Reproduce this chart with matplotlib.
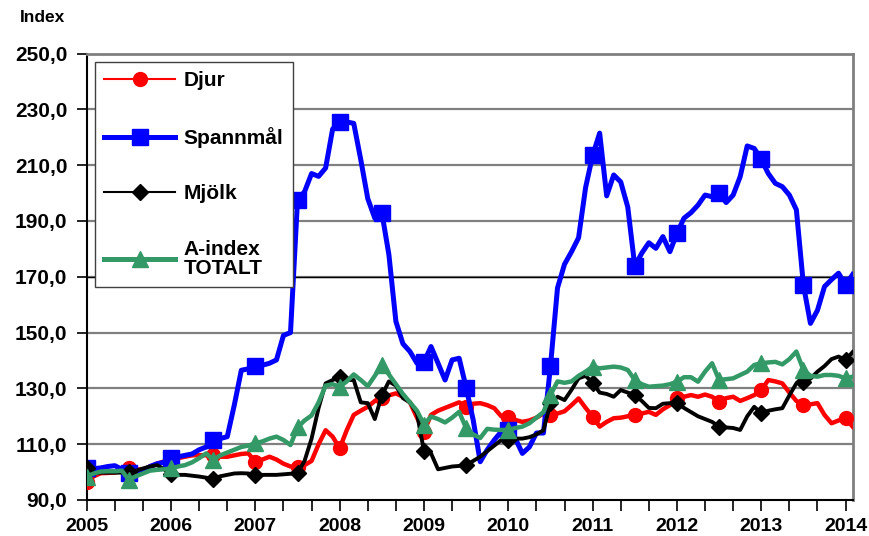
import matplotlib.pyplot as plt
from matplotlib.lines import Line2D

plt.rcParams["font.family"] = ["Liberation Sans", "DejaVu Sans"]
plt.rcParams["font.weight"] = "bold"

# Månadsdata jan 2005 - feb 2014
years = [str(y) for y in range(2005, 2015)]

djur = [
    96.6, 98.5, 99.6, 99.7, 99.8, 100.5, 101.3, 101.0, 100.8, 102.0, 103.0, 103.8,
    104.3, 105.0, 105.5, 106.0, 106.1, 106.0, 106.0, 105.5, 105.5, 106.0, 106.5, 106.7,
    103.7, 104.5, 105.5, 104.5, 103.0, 102.0, 101.9, 102.5, 104.0, 110.0, 115.0, 112.7,
    108.5, 115.0, 120.5, 122.0, 123.4, 125.5, 126.5, 127.5, 128.2, 127.0, 125.0, 119.5,
    114.5, 120.5, 122.0, 123.0, 124.0, 125.0, 123.4, 124.5, 124.7, 124.0, 122.9, 120.0,
    119.9, 118.7, 118.0, 118.5, 119.5, 121.0, 120.5, 121.0, 121.8, 124.0, 126.4, 123.0,
    119.9, 116.3, 118.0, 119.3, 119.5, 120.0, 120.5, 121.0, 121.6, 120.5, 122.5, 124.0,
    126.4, 127.0, 127.6, 127.0, 127.8, 127.0, 125.2, 126.5, 127.0, 125.5, 126.5, 127.6,
    129.4, 133.0, 132.5, 131.8, 128.5, 125.5, 124.0, 124.3, 124.7, 120.5, 117.5, 118.5,
    119.3, 116.3,
]

spannmal = [
    101.5, 101.2, 101.5, 102.0, 102.3, 101.0, 99.5, 99.0, 100.5, 102.0, 103.0, 103.5,
    105.0, 105.5, 106.0, 106.5, 108.0, 109.0, 111.5, 112.0, 112.7, 124.0, 136.5, 137.0,
    138.0, 138.3, 139.0, 140.2, 149.0, 150.0, 197.5, 200.5, 207.0, 206.0, 209.0, 223.0,
    225.5, 225.5, 225.0, 212.0, 198.0, 191.0, 193.0, 178.0, 154.0, 146.0, 143.2, 139.0,
    139.5, 145.0, 139.0, 133.0, 140.2, 140.8, 130.3, 118.7, 103.7, 108.0, 111.5, 114.5,
    115.0, 112.0, 106.7, 109.0, 114.0, 114.0, 138.0, 166.0, 174.5, 179.0, 184.0, 202.0,
    213.5, 221.5, 199.0, 206.5, 204.0, 195.0, 173.8, 178.5, 182.2, 180.2, 184.4, 179.0,
    185.6, 191.0, 193.0, 195.7, 199.3, 198.7, 200.2, 196.6, 199.3, 205.9, 216.9, 216.0,
    212.1, 207.0, 203.5, 202.3, 199.3, 194.0, 167.0, 153.3, 158.0, 166.5, 169.0, 171.3,
    167.0, 170.8,
]

mjolk = [
    101.5, 99.5, 99.8, 99.8, 99.8, 99.8, 100.2, 100.5, 101.3, 102.0, 102.5, 101.0,
    99.3, 99.0, 99.0, 98.7, 98.4, 98.0, 97.5, 98.5, 99.0, 99.5, 99.6, 99.5,
    98.8, 99.0, 99.0, 99.0, 99.2, 99.4, 99.6, 104.0, 112.0, 123.0, 131.8, 133.0,
    134.0, 133.0, 133.0, 125.0, 124.7, 119.0, 127.5, 132.5, 131.0, 126.5, 125.0, 121.0,
    107.5, 106.7, 101.0, 101.5, 102.0, 102.2, 102.5, 104.0, 105.5, 107.5, 109.5, 111.5,
    111.5, 112.0, 112.0, 112.5, 113.5, 115.0, 124.7, 127.0, 125.8, 129.5, 133.6, 134.5,
    132.0, 128.5, 128.0, 127.0, 129.4, 128.5, 127.6, 125.5, 123.0, 122.9, 124.5, 124.7,
    124.7, 123.0, 121.5, 120.0, 119.0, 118.0, 116.3, 116.0, 115.8, 115.1, 120.0, 123.4,
    121.1, 122.0, 122.5, 122.9, 127.5, 131.8, 132.4, 133.5, 136.0, 138.0, 140.5, 141.4,
    140.2, 143.0,
]

a_index = [
    98.4, 99.5, 100.2, 100.3, 100.3, 100.5, 97.2, 98.5, 99.5, 100.5, 100.8, 101.0,
    101.3, 102.0, 102.5, 103.5, 105.0, 106.7, 104.3, 106.0, 107.0, 108.0, 109.0, 109.5,
    110.3, 111.0, 112.0, 112.7, 111.5, 109.7, 116.0, 118.5, 120.3, 125.0, 131.0, 131.5,
    130.6, 132.5, 135.0, 133.0, 130.8, 134.5, 138.4, 135.0, 131.5, 128.0, 125.0, 122.0,
    117.0, 119.9, 119.0, 117.8, 119.5, 121.6, 115.7, 113.5, 112.2, 115.5, 115.2, 115.1,
    115.1, 115.8, 116.3, 117.5, 119.5, 121.5, 127.6, 132.5, 132.0, 132.5, 134.5, 136.0,
    137.8, 137.2, 137.5, 137.8, 137.5, 136.6, 133.0, 131.5, 130.6, 130.8, 131.0, 131.5,
    132.4, 134.0, 134.0, 132.4, 136.0, 139.0, 133.0, 133.3, 133.6, 134.8, 136.0, 138.4,
    139.0, 139.3, 139.5, 138.6, 140.5, 143.2, 136.6, 134.5, 134.2, 134.8, 134.8, 134.5,
    133.6, 134.2,
]

x = list(range(len(djur)))

fig = plt.figure(figsize=(8.7, 5.36), dpi=100)
ax = fig.add_axes([0.0997, 0.0672, 0.8803, 0.8328])

ax.set_ylim(90, 250)
ax.set_xlim(0, len(x) - 1)

yticks = list(range(90, 251, 20))
ax.set_yticks(yticks)
ax.set_yticklabels([f"{v:.1f}".replace(".", ",") for v in yticks], fontsize=15, fontweight="bold")
for v in yticks[1:-1]:
    ax.axhline(v, color="#808080", lw=1.6, zorder=1)
ax.axhline(170, color="black", lw=1.0, zorder=1)

ax.set_xticks(range(0, len(x), 12))
ax.set_xticklabels(years, fontsize=14, fontweight="bold")
ax.set_xticks(range(0, len(x), 4), minor=True)
ax.tick_params(axis="x", which="both", direction="out", length=8, width=1.2, pad=5)
ax.tick_params(axis="y", direction="out", length=7, width=1.2, pad=7)

ax.spines["left"].set_linewidth(1.5)
ax.spines["bottom"].set_linewidth(1.5)
ax.spines["top"].set_color("#808080")
ax.spines["right"].set_color("#808080")
ax.spines["top"].set_linewidth(2)
ax.spines["right"].set_linewidth(2)

ax.plot(x, djur, color="#FF0000", lw=3.2, marker="o", markersize=10, markevery=6, zorder=3)
ax.plot(x, spannmal, color="#0000FF", lw=3.6, marker="s", markersize=11, markevery=6, zorder=3)
ax.plot(x, mjolk, color="black", lw=2.8, marker="D", markersize=8, markevery=6, zorder=3)
ax.plot(x, a_index, color="#339966", lw=3.2, marker="^", markersize=11, markevery=6, zorder=3)

handles = [
    Line2D([], [], color="#FF0000", lw=1.5, marker="o", markersize=10),
    Line2D([], [], color="#0000FF", lw=3.6, marker="s", markersize=11),
    Line2D([], [], color="black", lw=1.5, marker="D", markersize=8),
    Line2D([], [], color="#339966", lw=3.6, marker="^", markersize=11),
]
labels = ["Djur", "Spannmål", "Mjölk", "A-index\nTOTALT"]
leg = ax.legend(handles, labels, loc="upper left", bbox_to_anchor=(0.0108, 0.981),
                borderaxespad=0, frameon=True, fancybox=False, framealpha=1,
                prop={"size": 15, "weight": "bold"}, handlelength=3.4,
                handletextpad=0.4, labelspacing=1.75, borderpad=0.45)
for t in leg.get_texts():
    t.set_linespacing(1.0)
leg.get_frame().set_edgecolor("#404040")
leg.get_frame().set_linewidth(1.0)
leg.set_zorder(5)

fig.text(20 / 870, 1 - 18 / 536, "Index", fontsize=12.5, fontweight="bold", va="center", ha="left")

fig.savefig("out.png", dpi=100, facecolor="white")
